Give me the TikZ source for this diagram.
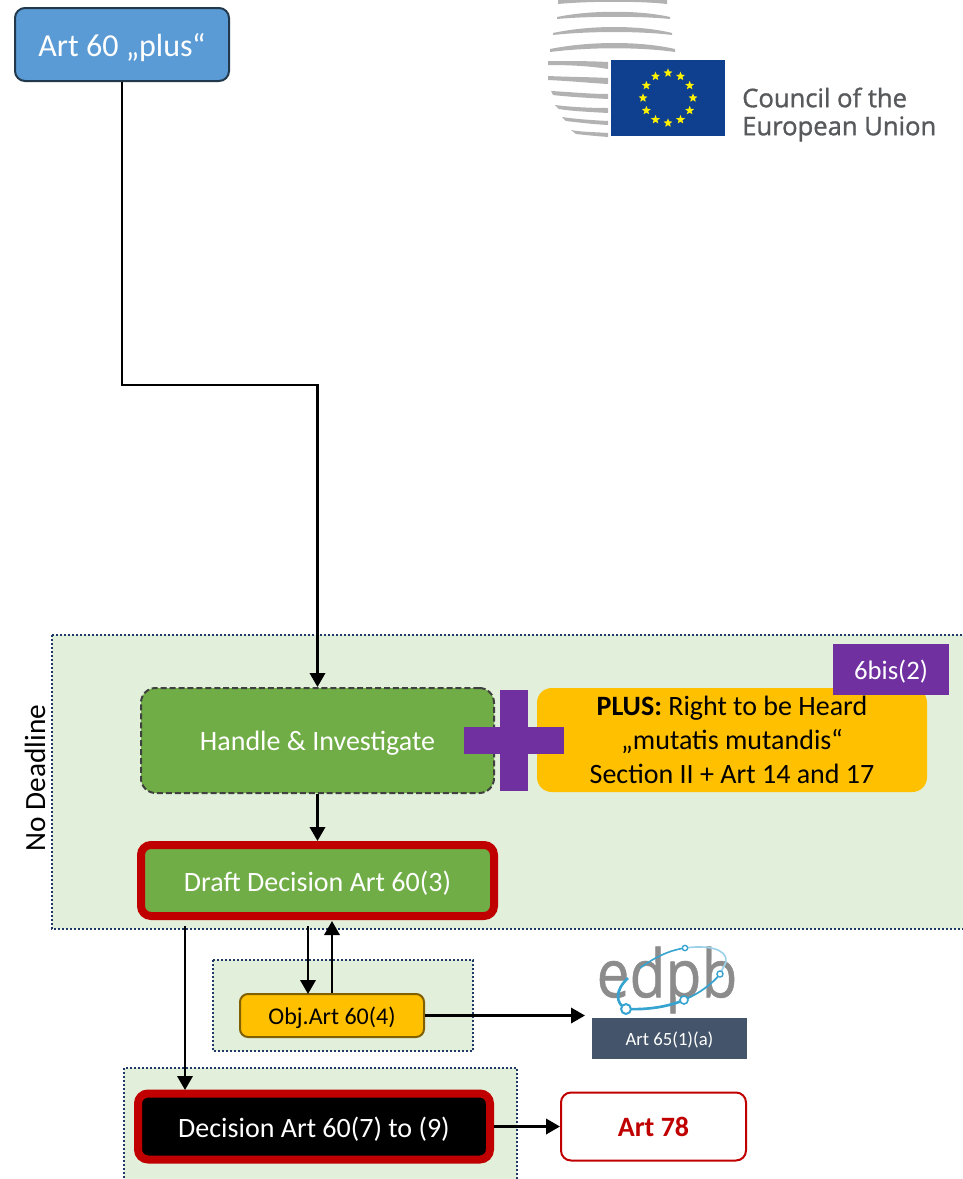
\documentclass[tikz,border=0pt]{standalone}
\usepackage{fontspec}
\setmainfont{Carlito}
\newfontfamily\logofont[FakeBold=1.2]{Open Sans}
\newfontfamily\edpbfont[FakeBold=0.8]{Open Sans}
\usetikzlibrary{arrows.meta}
\usetikzlibrary{shapes.geometric}

\definecolor{areagreen}{HTML}{E2EFDA}
\definecolor{areadots}{HTML}{203864}
\definecolor{boxgreen}{HTML}{70AD47}
\definecolor{boxblue}{HTML}{5B9BD5}
\definecolor{boxgold}{HTML}{FFC000}
\definecolor{boxpurple}{HTML}{7030A0}
\definecolor{boxred}{HTML}{C00000}
\definecolor{boxslate}{HTML}{44546A}
\definecolor{logogrey}{HTML}{B2B2B2}
\definecolor{logotext}{HTML}{58595B}
\definecolor{edpbgrey}{HTML}{8C8C8C}
\definecolor{flagblue}{HTML}{0F4090}
\definecolor{edpbblue}{HTML}{36A3D0}

\tikzset{
    area/.style={fill=areagreen, draw=areadots, line width=1.5pt, dash pattern=on 1.5pt off 1.5pt},
    conn/.style={draw=black, line width=1.9pt, -{Triangle[length=10.5pt,width=11.5pt]}},
    box/.style={rounded corners=7.5pt, align=center, inner sep=0pt, font=\fontsize{21}{25.5}\selectfont},
    lowered/.style={execute at begin node={\rule{0pt}{0.9em}}},
    greenbox/.style={box, lowered, fill=boxgreen, text=white},
    redframe/.style={draw=boxred, line width=6pt},
    purplebar/.style={fill=boxpurple},
    stripe/.style={fill=logogrey},
    eustar/.style={star, star points=5, star point ratio=2.3, minimum size=7pt, inner sep=0pt, fill=yellow}
}

\begin{document}
\begin{tikzpicture}[x=0.75pt, y=-0.75pt]

    \useasboundingbox (0,0) rectangle (963,1179);

    % shaded areas
    \path[area] (52,635) rectangle (975,929);
    \path[area] (213,960) rectangle (473,1051);
    \path[area] (124,1068) rectangle (517,1195);

    \node[rotate=90, font=\fontsize{22}{26}\selectfont] (deadline) at (35,778) {No Deadline};

    % boxes
    \node[box, lowered, fill=boxblue, draw=black!20!boxblue!45!black, line width=1.5pt, text=white, font=\fontsize{24}{28}\selectfont, minimum width=160.5pt, minimum height=54.75pt] (art60) at (122,44.5) {Art 60 „plus“};

    \node[greenbox, draw=black!75, line width=1.5pt, dash pattern=on 4.5pt off 2.2pt, rounded corners=11pt, minimum width=264.75pt, minimum height=78.75pt] (handle) at (317.5,740.5) {Handle \& Investigate};

    \node[greenbox, redframe, minimum width=264.75pt, minimum height=53.25pt] (draft) at (317.5,880.5) {Draft Decision Art 60(3)};

    \node[box, lowered, fill=boxgold, rounded corners=11pt, minimum width=292.5pt, minimum height=78pt] (plus) at (732,740) {\textbf{PLUS:} Right to be Heard\\„mutatis mutandis“\\Section II + Art 14 and 17};

    % the big plus sign
    \path[purplebar] (500,690) rectangle (528,791);
    \path[purplebar] (464,727) rectangle (564,754);

    \node[box, lowered, rounded corners=0pt, fill=boxpurple, text=white, font=\fontsize{20}{24}\selectfont, minimum width=87pt, minimum height=38.25pt] (sixbis) at (891,669.5) {6bis(2)};

    \node[box, lowered, fill=boxgold, draw=boxgold!50!black, line width=1.5pt, font=\fontsize{18}{22}\selectfont, rounded corners=6pt, minimum width=138pt, minimum height=32.25pt] (obj) at (332,1015.5) {Obj.Art 60(4)};

    \node[box, lowered, rounded corners=0pt, fill=boxslate, text=white, font=\fontsize{14}{17}\selectfont, minimum width=116.25pt, minimum height=30.75pt] (art65) at (669.5,1038.5) {Art 65(1)(a)};

    \node[box, lowered, fill=black, text=white, redframe, minimum width=264pt, minimum height=49.5pt] (decision) at (314,1126.5) {Decision Art 60(7) to (9)};

    \node[box, fill=white, draw=boxred, line width=1.5pt, text=boxred, font=\fontsize{21}{25}\selectfont\bfseries, minimum width=138.75pt, minimum height=51pt] (art78) at (653.5,1126.5) {Art 78};

    % free ends of the connectors
    \coordinate (elbow) at (317.5,385);
    \coordinate (draftL) at (185,926);
    \coordinate (draftR) at (308,926);
    \coordinate (draftIn) at (332,921);
    \coordinate (objIn) at (308,994);
    \coordinate (decisionIn) at (185,1090);
    \coordinate (edpbIn) at (585,1015.5);

    % connectors
    \draw[conn] (art60.south) |- (elbow) -- (handle.north);
    \draw[conn] (handle.south) -- (draft.north);
    \draw[conn] (draftL) -- (decisionIn);
    \draw[conn] (draftR) -- (objIn);
    \draw[conn] (obj.north) -- (draftIn);
    \draw[conn] (obj.east) -- (edpbIn);
    \draw[conn] (decision.east) -- (art78.west);

    % council logo
    \fill[stripe] (558,0) .. controls (590,-2) and (640,-2) .. (667,0) -- (667,4) .. controls (640,1) and (590,1) .. (558,4) -- cycle;
    \fill[stripe] (557,17) .. controls (590,10) and (640,10) .. (670,17) -- (670,19) .. controls (640,16) and (590,16) .. (557,19) -- cycle;
    \fill[stripe] (553,33) .. controls (590,25) and (640,25) .. (672,33) -- (672,35) .. controls (640,31) and (590,31) .. (553,35) -- cycle;
    \fill[stripe] (550,49) .. controls (590,41) and (640,41) .. (675,49) -- (675,52) .. controls (640,47) and (590,47) .. (550,52) -- cycle;
    \fill[stripe] (548,61) .. controls (570,61) and (590,61) .. (608,62) -- (608,69) .. controls (590,66) and (570,65) .. (548,65) -- cycle;
    \fill[stripe] (548,76) .. controls (570,77) and (590,77) .. (608,78) -- (608,84) .. controls (590,83) and (570,81) .. (548,80) -- cycle;
    \fill[stripe] (551,91) .. controls (570,92) and (590,94) .. (608,94) -- (608,99) .. controls (590,98) and (570,97) .. (553,95) -- cycle;
    \fill[stripe] (555,105) .. controls (570,107) and (590,108) .. (608,108) -- (608,113) .. controls (590,112) and (570,111) .. (559,109) -- cycle;
    \fill[stripe] (562,117) .. controls (575,119) and (590,120) .. (608,121) -- (608,125) .. controls (590,124) and (575,122) .. (566,121) -- cycle;
    \fill[stripe] (571,130) .. controls (580,132) and (595,132) .. (608,133) -- (608,137) .. controls (595,136) and (585,135) .. (576,134) -- cycle;

    \node[fill=flagblue, inner sep=0pt, minimum width=85.5pt, minimum height=57pt] (flag) at (668,98) {};
    \foreach \a in {0,30,...,330}
        \path (flag.center) ++(\a:18.75pt) node[eustar] {};

    \node[anchor=west, inner sep=0pt, align=left, text=logotext, font=\logofont\fontsize{19.2}{21}\selectfont] (council) at (742,114.5) {Council of the\\European Union};

    % edpb logo
    \node[inner sep=0pt, xscale=0.88, transform shape, text=edpbgrey, font=\edpbfont\fontsize{50}{54}\selectfont] (edpb) at (667,980) {edpb};
    \draw[edpbblue, line width=2pt] (626,1009) .. controls (650,1010) and (670,1006) .. (684,1000);
    \draw[edpbblue, line width=1.3pt] (684,1000) .. controls (700,993) and (712,984) .. (720,974);
    \draw[edpbblue, line width=2pt] (626,1009) .. controls (615,1003) and (615,990) .. (628,978);
    \draw[edpbblue, line width=1.2pt] (640,968) .. controls (655,957) and (670,950) .. (685,948);
    \draw[edpbblue!50, line width=1.2pt] (685,948) .. controls (705,945) and (728,948) .. (726,962) -- (720,974);
    \filldraw[fill=white, draw=edpbblue, line width=1.5pt] (626,1009) circle (3.7pt);
    \filldraw[fill=white, draw=edpbblue, line width=1.2pt] (684,1000) circle (3pt);
    \filldraw[fill=white, draw=edpbblue, line width=1pt] (720,974) circle (2.3pt);
    \filldraw[fill=white, draw=edpbblue, line width=1pt] (685,948) circle (2pt);

\end{tikzpicture}
\end{document}
